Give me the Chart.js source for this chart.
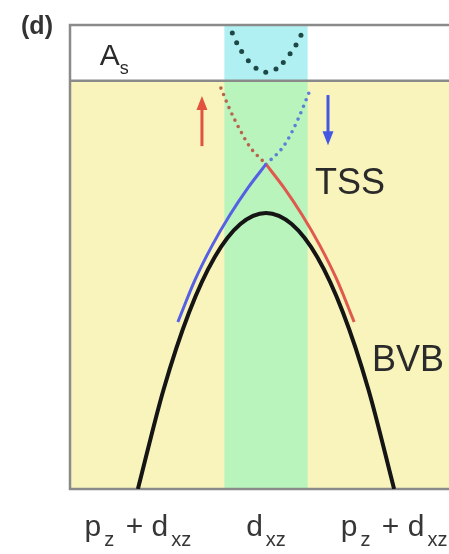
<!DOCTYPE html>
<html>
<head>
<meta charset="utf-8">
<script src="https://cdn.jsdelivr.net/npm/chart.js@4/dist/chart.umd.min.js"></script>
<style>
  html, body { margin: 0; padding: 0; background: #fff; overflow: hidden; width: 449px; height: 554px; }
  canvas { display: block; }
</style>
</head>
<body>
<canvas id="bands" width="470" height="554"></canvas>
<script>
// Momentum axis: ±1 carry p_z + d_xz character, 0 is the d_xz point
const tickValues = [-1, 0, 1];
const tickLabels = ['p_z + d_xz', 'd_xz', 'p_z + d_xz'];

// Orbital window around k = 0 and the energy where the A_s panel starts
const bandK = [-0.325, 0.325];
const panelSplit = 88;

// Bulk valence band (BVB)
const bvbK = [-1, -0.8, -0.6, -0.4, -0.2, 0, 0.2, 0.4, 0.6, 0.8, 1];
const bvbE = [0, 21.4, 38.1, 50.0, 57.1, 59.5, 57.1, 50.0, 38.1, 21.4, 0];

// Topological surface state, occupied branches
const tssBlueK = [-0.688, -0.555, -0.422, -0.281, -0.141, 0];
const tssBlueE = [36.0, 45.0, 52.4, 59.1, 64.9, 70.0];
const tssRedK = [0, 0.141, 0.281, 0.422, 0.555, 0.688];
const tssRedE = [70.0, 64.9, 59.1, 52.4, 45.0, 36.0];

// Surface state continuation above the Dirac point
const upperRedK = [-0.352, -0.281, -0.203, -0.125, 0];
const upperRedE = [86.4, 81.7, 77.4, 73.7, 70.0];
const upperBlueK = [0, 0.133, 0.211, 0.281, 0.344];
const upperBlueE = [70.0, 73.7, 77.4, 81.7, 86.0];

// A_s state
const asK = [-0.263, -0.229, -0.190, -0.138, -0.078, -0.002, 0.078, 0.135, 0.188, 0.234, 0.273];
const asE = [98.3, 96.2, 94.3, 92.3, 90.7, 89.8, 90.5, 91.9, 93.8, 95.7, 97.8];

// Spin arrows: k, start energy, end energy
const spinK = [-0.5, 0.484];
const spinFrom = [73.9, 84.9];
const spinTo = [84.7, 74.1];
const spinColors = ['#e2533f', '#4457e2'];

const pts = (k, e) => k.map((v, i) => ({ x: v, y: e[i] }));

const FONT = '"Liberation Sans", Arial, sans-serif';
const TEXT = '#2a2a2a';

// Draws a string where "_abc" becomes a subscript
function drawSub(ctx, str, px, py, opt) {
  const parts = str.split(/_(\w+)/);
  const gap = opt.gap || 0;
  let w = 0;
  parts.forEach((p, i) => {
    if (!p) return;
    ctx.font = (i % 2 ? opt.sub : opt.main) + 'px ' + FONT;
    w += ctx.measureText(p).width + gap;
  });
  w -= gap;
  let cx = opt.align === 'left' ? px : px - w / 2;
  ctx.textAlign = 'left';
  ctx.textBaseline = 'alphabetic';
  parts.forEach((p, i) => {
    if (!p) return;
    ctx.font = (i % 2 ? opt.sub : opt.main) + 'px ' + FONT;
    ctx.fillText(p, cx, i % 2 ? py + opt.drop : py);
    cx += ctx.measureText(p).width + gap;
  });
}

const panelPlugin = {
  id: 'panels',
  beforeDatasetsDraw(chart) {
    const { ctx, chartArea: a, scales: { x, y } } = chart;
    const ySep = y.getPixelForValue(panelSplit);
    const bx0 = x.getPixelForValue(bandK[0]);
    const bx1 = x.getPixelForValue(bandK[1]);
    ctx.save();
    ctx.fillStyle = '#ffffff';
    ctx.fillRect(a.left, a.top, a.width, ySep - a.top);
    ctx.fillStyle = '#f8f4bb';
    ctx.fillRect(a.left, ySep, a.width, a.bottom - ySep);
    ctx.fillStyle = '#b0f0f3';
    ctx.fillRect(bx0, a.top, bx1 - bx0, ySep - a.top);
    ctx.fillStyle = '#b9f4bc';
    ctx.fillRect(bx0, ySep, bx1 - bx0, a.bottom - ySep);

    ctx.strokeStyle = '#8a8a8a';
    ctx.lineWidth = 2.5;
    ctx.beginPath();
    ctx.moveTo(a.right + 5, a.top);
    ctx.lineTo(a.left, a.top);
    ctx.lineTo(a.left, a.bottom);
    ctx.lineTo(a.right + 5, a.bottom);
    ctx.moveTo(a.left, ySep);
    ctx.lineTo(a.right + 5, ySep);
    ctx.stroke();
    ctx.restore();
  },
  afterDatasetsDraw(chart) {
    const { ctx, chartArea: a, scales: { x, y } } = chart;
    ctx.save();

    // spin arrows
    spinK.forEach((k, i) => {
      const px = x.getPixelForValue(k);
      const y0 = y.getPixelForValue(spinFrom[i]);
      const y1 = y.getPixelForValue(spinTo[i]);
      const dir = y1 < y0 ? -1 : 1;
      const head = 14;
      ctx.strokeStyle = spinColors[i];
      ctx.fillStyle = spinColors[i];
      ctx.lineWidth = 3;
      ctx.beginPath();
      ctx.moveTo(px, y0);
      ctx.lineTo(px, y1 - dir * head * 0.7);
      ctx.stroke();
      ctx.beginPath();
      ctx.moveTo(px, y1);
      ctx.lineTo(px - 5.5, y1 - dir * head);
      ctx.lineTo(px + 5.5, y1 - dir * head);
      ctx.closePath();
      ctx.fill();
    });

    // band labels
    ctx.fillStyle = TEXT;
    drawSub(ctx, 'A_s', x.getPixelForValue(-1.297), y.getPixelForValue(91.4),
      { main: 30, sub: 18, drop: 9, align: 'left' });
    ctx.font = '36px ' + FONT;
    ctx.textAlign = 'left';
    ctx.textBaseline = 'alphabetic';
    ctx.fillText('TSS', x.getPixelForValue(0.383), y.getPixelForValue(63.6));
    ctx.fillText('BVB', x.getPixelForValue(0.828), y.getPixelForValue(25.4));

    // momentum tick labels
    ctx.fillStyle = '#363636';
    tickValues.forEach((v, i) => {
      drawSub(ctx, tickLabels[i], x.getPixelForValue(v), a.bottom + 47,
        { main: 30, sub: 20, drop: 10, gap: 3 });
    });

    // panel tag
    ctx.fillStyle = '#333';
    ctx.font = '600 25px ' + FONT;
    ctx.textAlign = 'center';
    ctx.fillText('(d)', 37, 34);
    ctx.restore();
  }
};

new Chart(document.getElementById('bands'), {
  type: 'line',
  data: {
    datasets: [
      { label: 'BVB', data: pts(bvbK, bvbE), borderColor: '#151515', borderWidth: 4,
        cubicInterpolationMode: 'monotone', pointRadius: 0 },
      { label: 'TSS spin down', data: pts(tssBlueK, tssBlueE), borderColor: '#5560e4', borderWidth: 3,
        cubicInterpolationMode: 'monotone', pointRadius: 0 },
      { label: 'TSS spin up', data: pts(tssRedK, tssRedE), borderColor: '#e0594e', borderWidth: 3,
        cubicInterpolationMode: 'monotone', pointRadius: 0 },
      { label: 'TSS upper (up)', data: pts(upperRedK, upperRedE), borderColor: '#b8634e', borderWidth: 3.6,
        borderDash: [0, 7], borderCapStyle: 'round', cubicInterpolationMode: 'monotone', pointRadius: 0 },
      { label: 'TSS upper (down)', data: pts(upperBlueK, upperBlueE), borderColor: '#5d7dd6', borderWidth: 3.6,
        borderDash: [0, 7], borderCapStyle: 'round', cubicInterpolationMode: 'monotone', pointRadius: 0 },
      { label: 'A_s', data: pts(asK, asE), showLine: false, pointRadius: 2.5, pointBorderWidth: 0,
        pointBackgroundColor: '#1d4846' }
    ]
  },
  options: {
    responsive: false,
    animation: false,
    layout: { padding: { left: 70, top: 25, right: 8, bottom: 65 } },
    scales: {
      x: { type: 'linear', min: -1.53, max: 1.53, display: false },
      y: { type: 'linear', min: 0, max: 100, display: false }
    },
    plugins: { legend: { display: false }, tooltip: { enabled: false } }
  },
  plugins: [panelPlugin]
});
</script>
</body>
</html>
